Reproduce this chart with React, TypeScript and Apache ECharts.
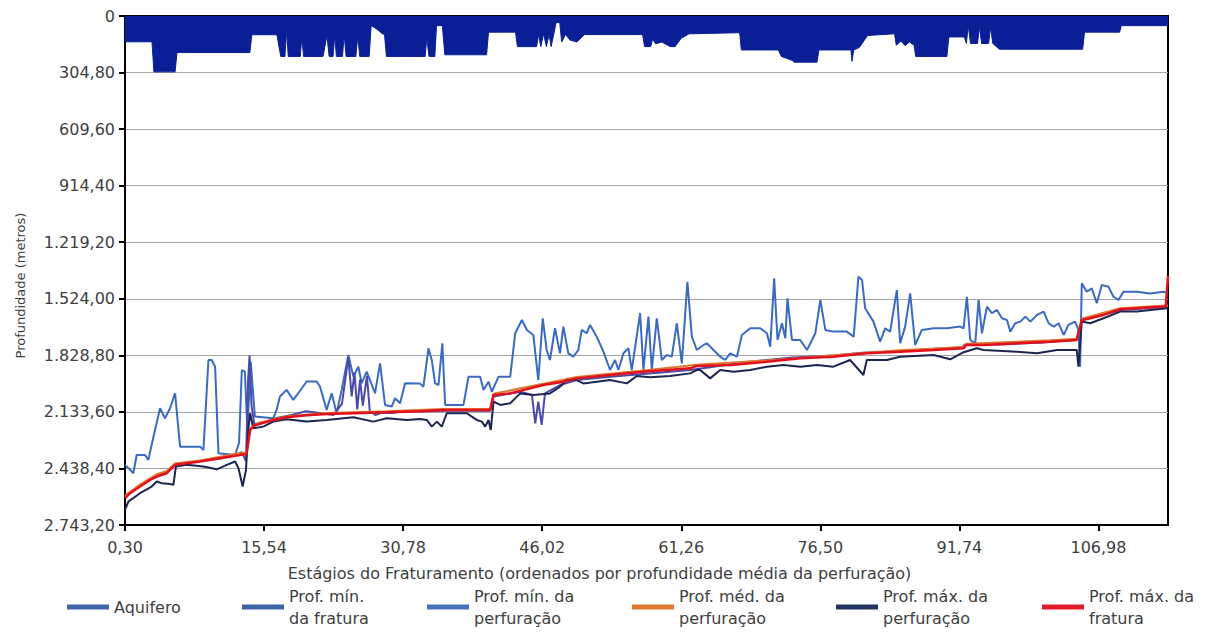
import React, { useEffect, useRef } from "react";
import * as echarts from "echarts";

// ---------- data ----------
const seriesNames = [
  "Aquifero",
  "Prof. mín. da fratura",
  "Prof. mín. da perfuração",
  "Prof. méd. da perfuração",
  "Prof. máx. da perfuração",
  "Prof. máx. da fratura",
];
const legendLabels = [
  "Aquifero",
  "Prof. mín.\nda fratura",
  "Prof. mín. da\nperfuração",
  "Prof. méd. da\nperfuração",
  "Prof. máx. da\nperfuração",
  "Prof. máx. da\nfratura",
];
const xTickStages = [0, 50, 100, 150, 200, 250, 300, 350];
const xTickLabels = ["0,30", "15,54", "30,78", "46,02", "61,26", "76,50", "91,74", "106,98"];
const yTickLabels = ["0", "304,80", "609,60", "914,40", "1.219,20", "1.524,00", "1.828,80", "2.133,60", "2.438,40", "2.743,20"];
const stageMax = 375;
const depthStep = 304.8;
const depthMax = 2743.2;

// [stage index, depth in metres]
const aquifer = [
  [0, 139], [9.7, 139], [10.4, 301], [18, 301], [18.7, 197], [44.9, 197], [45.6, 101], [54.6, 101],
  [56, 218], [57.5, 218], [58.1, 80], [58.7, 218], [63, 218], [63.6, 110], [64.2, 218], [71.2, 218],
  [72.6, 105], [73.4, 218], [74.8, 218], [75.4, 105], [76, 218], [78.2, 218], [78.8, 100], [79.5, 218],
  [83, 218], [83.7, 105], [84.4, 218], [87.8, 218], [88.5, 52], [89.5, 60], [91.3, 80], [92.5, 95],
  [93.3, 100], [94, 218], [107.9, 218], [108.5, 120], [109.3, 218], [111.4, 218], [112, 52], [114.1, 52],
  [115, 209], [130, 209], [130.7, 87], [140.4, 87], [141.1, 165], [148, 165], [148.7, 100], [149.5, 165],
  [150.5, 95], [151.5, 165], [152.5, 100], [153.2, 165], [154.2, 95], [155, 35], [156.3, 35], [157, 140],
  [158.4, 100], [160, 130], [162.5, 140], [164.5, 110], [165.3, 100], [186.1, 100], [186.8, 165], [189, 165],
  [189.7, 125], [190.8, 150], [193, 140], [196, 165], [197.8, 165], [198.5, 150], [200, 120], [202.8, 96],
  [221, 90], [221.6, 183], [234.9, 183], [236, 218], [240, 240], [240.5, 249], [248.8, 249], [249.5, 183],
  [261, 183], [261.4, 244], [262, 183], [264, 170], [267, 105], [276.7, 96], [277.3, 157], [279, 135],
  [280.5, 160], [282, 140], [283.7, 157], [284.3, 218], [295.5, 218], [296.2, 113], [301.8, 113], [302.5, 148],
  [303.2, 52], [304, 148], [306.5, 148], [307.2, 60], [308, 148], [310.5, 148], [311.2, 60], [312, 148],
  [314.3, 179], [344.3, 179], [345, 87], [357.6, 87], [358.2, 52], [375, 52],
];

const minFratura = [
  [0, 2420], [1.5, 2440], [3, 2464], [4.2, 2366], [7.2, 2366], [8.4, 2392], [10.5, 2250], [12.6, 2114],
  [14.4, 2168], [16.2, 2114], [18, 2033], [19.8, 2321], [27, 2321], [28.2, 2339], [30, 1854], [31.2, 1854],
  [32.4, 1890], [33.6, 2357], [39.6, 2366], [41, 2300], [42, 1908], [43.1, 1917], [44, 2231], [45.2, 1863],
  [46.7, 2159], [53.3, 2168], [54.5, 2123], [55.7, 2051], [58.1, 2015], [60.5, 2069], [62.3, 2033], [65.3, 1970],
  [68.9, 1970], [70.1, 1997], [72.5, 2123], [74.3, 2033], [76.1, 2141], [77.9, 2015], [80.3, 1827], [82.1, 1943],
  [83.9, 1890], [85.1, 1979], [86.9, 1917], [89.9, 2033], [91.7, 1872], [93.5, 2096], [95.9, 2105], [97.1, 2060],
  [98.9, 2087], [100.7, 1979], [106, 1980], [107.3, 1998], [109.1, 1791], [110.3, 1854], [111.5, 1980], [112.7, 1989],
  [114.1, 1764], [115.1, 2096], [121.7, 2096], [123.5, 1944], [127.7, 1944], [128.9, 2016], [130.7, 1971], [131.9, 2025],
  [134.3, 1944], [138.5, 1944], [140.3, 1710], [142.7, 1638], [144.5, 1692], [146.8, 1719], [148.6, 1962], [150.2, 1629],
  [151.6, 1800], [152.8, 1854], [154.6, 1683], [156.4, 1818], [157.6, 1674], [159.4, 1818], [161.2, 1836], [163, 1800],
  [164.2, 1692], [166, 1710], [167.2, 1665], [169.6, 1728], [172, 1809], [174.4, 1908], [176.2, 1854], [177.4, 1908],
  [179.2, 1818], [181, 1791], [182.2, 1908], [185.2, 1602], [186.4, 1908], [188.2, 1620], [189.4, 1908], [191.2, 1629],
  [193, 1854], [194.8, 1827], [196.6, 1836], [198.4, 1656], [200.2, 1872], [202.2, 1432], [203.8, 1728], [205.6, 1800],
  [208, 1773], [209.2, 1764], [211.6, 1800], [214, 1836], [215.8, 1854], [217.6, 1818], [220, 1836], [221.8, 1719],
  [224.8, 1683], [228.4, 1683], [230.8, 1710], [232, 1782], [233.4, 1414], [234.6, 1746], [236.2, 1656], [237.4, 1737],
  [238.2, 1522], [239.8, 1746], [242.8, 1746], [245.2, 1800], [248.2, 1710], [250, 1530], [251.8, 1692], [254.7, 1701],
  [259.5, 1701], [262, 1728], [263.7, 1405], [265, 1423], [266.1, 1575], [269.1, 1647], [271.5, 1755], [273.3, 1683],
  [275.1, 1701], [277.5, 1477], [278.7, 1764], [280.5, 1674], [282.3, 1495], [284.1, 1773], [286.5, 1692], [290.7, 1683],
  [295.5, 1683], [300.3, 1674], [301.5, 1683], [302.7, 1513], [303.9, 1746], [305.7, 1764], [306.9, 1530], [308.1, 1710],
  [309.9, 1566], [311.7, 1602], [313.5, 1584], [315.3, 1629], [317.1, 1638], [318.3, 1701], [320.1, 1656], [321.9, 1647],
  [323.7, 1620], [325.5, 1647], [327.9, 1611], [330.3, 1593], [332.1, 1656], [333.9, 1674], [335.7, 1656], [337.5, 1719],
  [339.2, 1665], [341.6, 1647], [342.8, 1692], [343.4, 1890], [344, 1441], [345.8, 1486], [347.6, 1468], [349.4, 1548],
  [351.2, 1450], [353.6, 1459], [355.4, 1513], [357.2, 1530], [359, 1486], [363.8, 1486], [368.6, 1495], [373.4, 1486],
  [375, 1495],
];

const minPerfuracao = [
  [0, 2590], [5.4, 2530], [9, 2495], [15, 2460], [18, 2415], [27, 2400], [34, 2385], [39, 2370], [42, 2350],
  [43.5, 2400], [44.3, 1950], [44.8, 1830], [45.5, 2100], [46.5, 2200], [50, 2190], [55, 2165], [60, 2150],
  [65, 2130], [70, 2140], [75, 2150], [78, 2090], [80.3, 1840], [81.5, 2050], [82.5, 1920], [83.5, 2120],
  [84.5, 1960], [85.5, 2100], [87, 1940], [88, 2130], [90, 2150], [92, 2140], [96, 2140], [100, 2130],
  [106, 2132], [114.5, 2128], [131.3, 2128], [132.5, 2051], [142.1, 2025], [146.3, 2042], [147.5, 2195],
  [148.6, 2078], [149.8, 2204], [151, 2034], [156.4, 1989], [162.4, 1962], [174.4, 1944], [186.4, 1929],
  [203.2, 1908], [210.4, 1893], [220, 1870], [230, 1855], [240, 1840], [255, 1830], [265, 1815], [280, 1805],
  [290, 1795], [301, 1785], [302, 1770], [315, 1770], [330, 1760], [342, 1745], [344, 1640], [350, 1615],
  [358, 1585], [370, 1572], [375, 1570],
];

const medPerfuracao = [
  [0, 2585], [5.4, 2525], [11.4, 2470], [15, 2452], [18, 2412], [27, 2395], [39, 2362], [43.7, 2352],
  [45, 2225], [48.5, 2190], [58.1, 2158], [72.5, 2140], [94.1, 2130], [114.5, 2118], [131.3, 2118], [132.5, 2036],
  [150.4, 1982], [162.4, 1946], [186.4, 1910], [205.6, 1880], [230.8, 1856], [254.7, 1829], [278.7, 1802],
  [301.5, 1784], [302.5, 1766], [332.7, 1748], [342.2, 1740], [344, 1632], [357.8, 1575], [374.2, 1560], [375, 1560],
];

const maxPerfuracao = [
  [0, 2662], [1.2, 2617], [5.4, 2572], [9.6, 2536], [11.4, 2509], [13.2, 2518], [16.2, 2522], [17.4, 2527],
  [18.3, 2428], [22.2, 2419], [28.2, 2428], [33, 2443], [36.6, 2419], [39.6, 2401], [40.8, 2437], [42.3, 2536],
  [43.5, 2446], [44.3, 2231], [45, 2141], [46.1, 2222], [49.7, 2213], [53.3, 2186], [58.1, 2173], [65.3, 2186],
  [72.5, 2177], [82.1, 2163], [89.3, 2186], [94.1, 2168], [101.3, 2177], [106.1, 2172], [108.5, 2177], [110.3, 2213],
  [112.1, 2186], [113.9, 2213], [115.7, 2141], [122.9, 2141], [124.7, 2159], [126.5, 2177], [128.3, 2186], [129.5, 2213],
  [130.7, 2177], [131.5, 2231], [132.5, 2078], [134.9, 2096], [138.5, 2087], [142.1, 2034], [146.9, 2042], [152.8, 2034],
  [156.4, 1998], [158.8, 1962], [162.4, 1962], [164.8, 1980], [169.6, 1971], [174.4, 1962], [180.4, 1980], [184, 1940],
  [188.8, 1947], [196, 1940], [203.2, 1926], [205.6, 1908], [206.8, 1908], [210.4, 1953], [214, 1908], [218.8, 1917],
  [224.8, 1908], [230.8, 1890], [236.8, 1881], [242.8, 1890], [248.8, 1881], [254.7, 1890], [260.7, 1854], [265.5, 1935],
  [266.7, 1854], [273.9, 1854], [278.7, 1836], [290.7, 1827], [296.7, 1850], [301.5, 1812], [306.3, 1791], [308.7, 1800],
  [320.7, 1809], [327.9, 1818], [335.1, 1800], [342.2, 1800], [342.8, 1890], [344, 1647], [347, 1656], [351.8, 1629],
  [357.8, 1593], [363.8, 1593], [374.6, 1575], [375, 1575],
];

const maxFratura = [
  [0, 2599], [1.8, 2572], [5.4, 2536], [9, 2500], [11.4, 2482], [15, 2464], [18, 2419], [22.2, 2410],
  [27, 2401], [34.2, 2383], [39, 2371], [43.7, 2360], [45, 2231], [46.1, 2209], [48.5, 2198], [53.3, 2177],
  [58.1, 2163], [65.3, 2152], [72.5, 2145], [82.1, 2141], [94.1, 2136], [106.1, 2130], [114.5, 2123], [131.3, 2123],
  [132.5, 2042], [138.5, 2034], [150.4, 1989], [157.6, 1971], [162.4, 1953], [174.4, 1935], [186.4, 1917], [203.2, 1899],
  [205.6, 1886], [218, 1881], [230.8, 1863], [242.8, 1845], [254.7, 1836], [266.7, 1818], [278.7, 1809], [290.7, 1800],
  [301.5, 1791], [302.5, 1773], [308.7, 1773], [320.7, 1764], [332.7, 1755], [342.2, 1746], [344, 1638], [347, 1629],
  [351.8, 1611], [357.8, 1581], [363.8, 1575], [368.6, 1570], [374.2, 1566], [375, 1400],
];

// ---------- styling ----------
const FONT = "DejaVu Sans";
const TEXT = "#404040";
const lineColors = ["#0a1f96", "#3b6bc0", "#4a4aa8", "#e0772e", "#1c2650", "#e3101e"];
const legendColors = ["#3d64a8", "#3d64a8", "#4874bc", "#e0772e", "#1f3560", "#e31b2a"];
const legendLeft = [67, 242, 427, 632, 836, 1042];

export default function App() {
  const ref = useRef<HTMLDivElement>(null);
  useEffect(() => {
    const chart = echarts.init(ref.current!, null, { renderer: "svg" });
    const lineData = [minFratura, minPerfuracao, medPerfuracao, maxPerfuracao, maxFratura];
    const lineWidths = [2, 2, 2, 2, 2.5];
    const option: any = {
      animation: false,
      backgroundColor: "#ffffff",
      textStyle: { fontFamily: FONT },
      grid: {
        left: 125,
        right: 41,
        top: 16,
        bottom: 111,
        show: true,
        borderColor: "#000",
        borderWidth: 2,
      },
      xAxis: {
        type: "value",
        min: 0,
        max: stageMax,
        name: "Estágios do Fraturamento (ordenados por profundidade média da perfuração)",
        nameLocation: "middle",
        nameGap: 40,
        nameTextStyle: { fontFamily: FONT, fontSize: 16, color: TEXT, padding: [0, 94, 0, 0] },
        axisLine: { show: true, onZero: false, lineStyle: { color: "#000", width: 2 } },
        axisTick: { show: true, length: 6, lineStyle: { color: "#000", width: 2 }, customValues: xTickStages },
        axisLabel: {
          customValues: xTickStages,
          margin: 14,
          fontFamily: FONT,
          fontSize: 16,
          color: TEXT,
          formatter: (v: number) => xTickLabels[Math.round(v / 50)] ?? "",
        },
        splitLine: { show: false },
      },
      yAxis: {
        type: "value",
        inverse: true,
        min: 0,
        max: depthMax,
        interval: depthStep,
        name: "Profundidade (metros)",
        nameLocation: "middle",
        nameGap: 98,
        nameRotate: 90,
        nameTextStyle: { fontFamily: FONT, fontSize: 13, color: TEXT, padding: [0, 30, 0, 0] },
        axisLine: { show: true, lineStyle: { color: "#000", width: 2 } },
        axisTick: { show: true, length: 6, lineStyle: { color: "#000", width: 2 } },
        axisLabel: {
          margin: 10,
          fontFamily: FONT,
          fontSize: 16,
          color: TEXT,
          formatter: (v: number) => yTickLabels[Math.round(v / depthStep)] ?? "",
        },
        splitLine: { show: true, lineStyle: { color: "#a6a6a6", width: 1 } },
      },
      legend: seriesNames.map((name, i) => ({
        data: [{ name, itemStyle: { color: legendColors[i] } }],
        left: legendLeft[i],
        top: i === 0 ? 596 : 585,
        padding: 0,
        icon: "rect",
        itemWidth: 42,
        itemHeight: 5,
        selectedMode: false,
        formatter: () => legendLabels[i],
        textStyle: { fontFamily: FONT, fontSize: 16, lineHeight: 22, color: TEXT },
      })),
      series: [
        {
          name: seriesNames[0],
          type: "line",
          data: aquifer,
          symbol: "none",
          color: lineColors[0],
          lineStyle: { width: 1, color: lineColors[0] },
          areaStyle: { color: lineColors[0], opacity: 1, origin: "start" },
          z: 1,
        },
        ...lineData.map((d, k) => ({
          name: seriesNames[k + 1],
          type: "line",
          data: d,
          symbol: "none",
          color: lineColors[k + 1],
          lineStyle: { width: lineWidths[k], color: lineColors[k + 1] },
          z: 2 + k,
        })),
      ],
    };
    chart.setOption(option);
    return () => chart.dispose();
  }, []);
  return (
    <div
      ref={ref}
      style={{ position: "fixed", left: 0, top: 0, width: 1209, height: 636, background: "#fff" }}
    />
  );
}
